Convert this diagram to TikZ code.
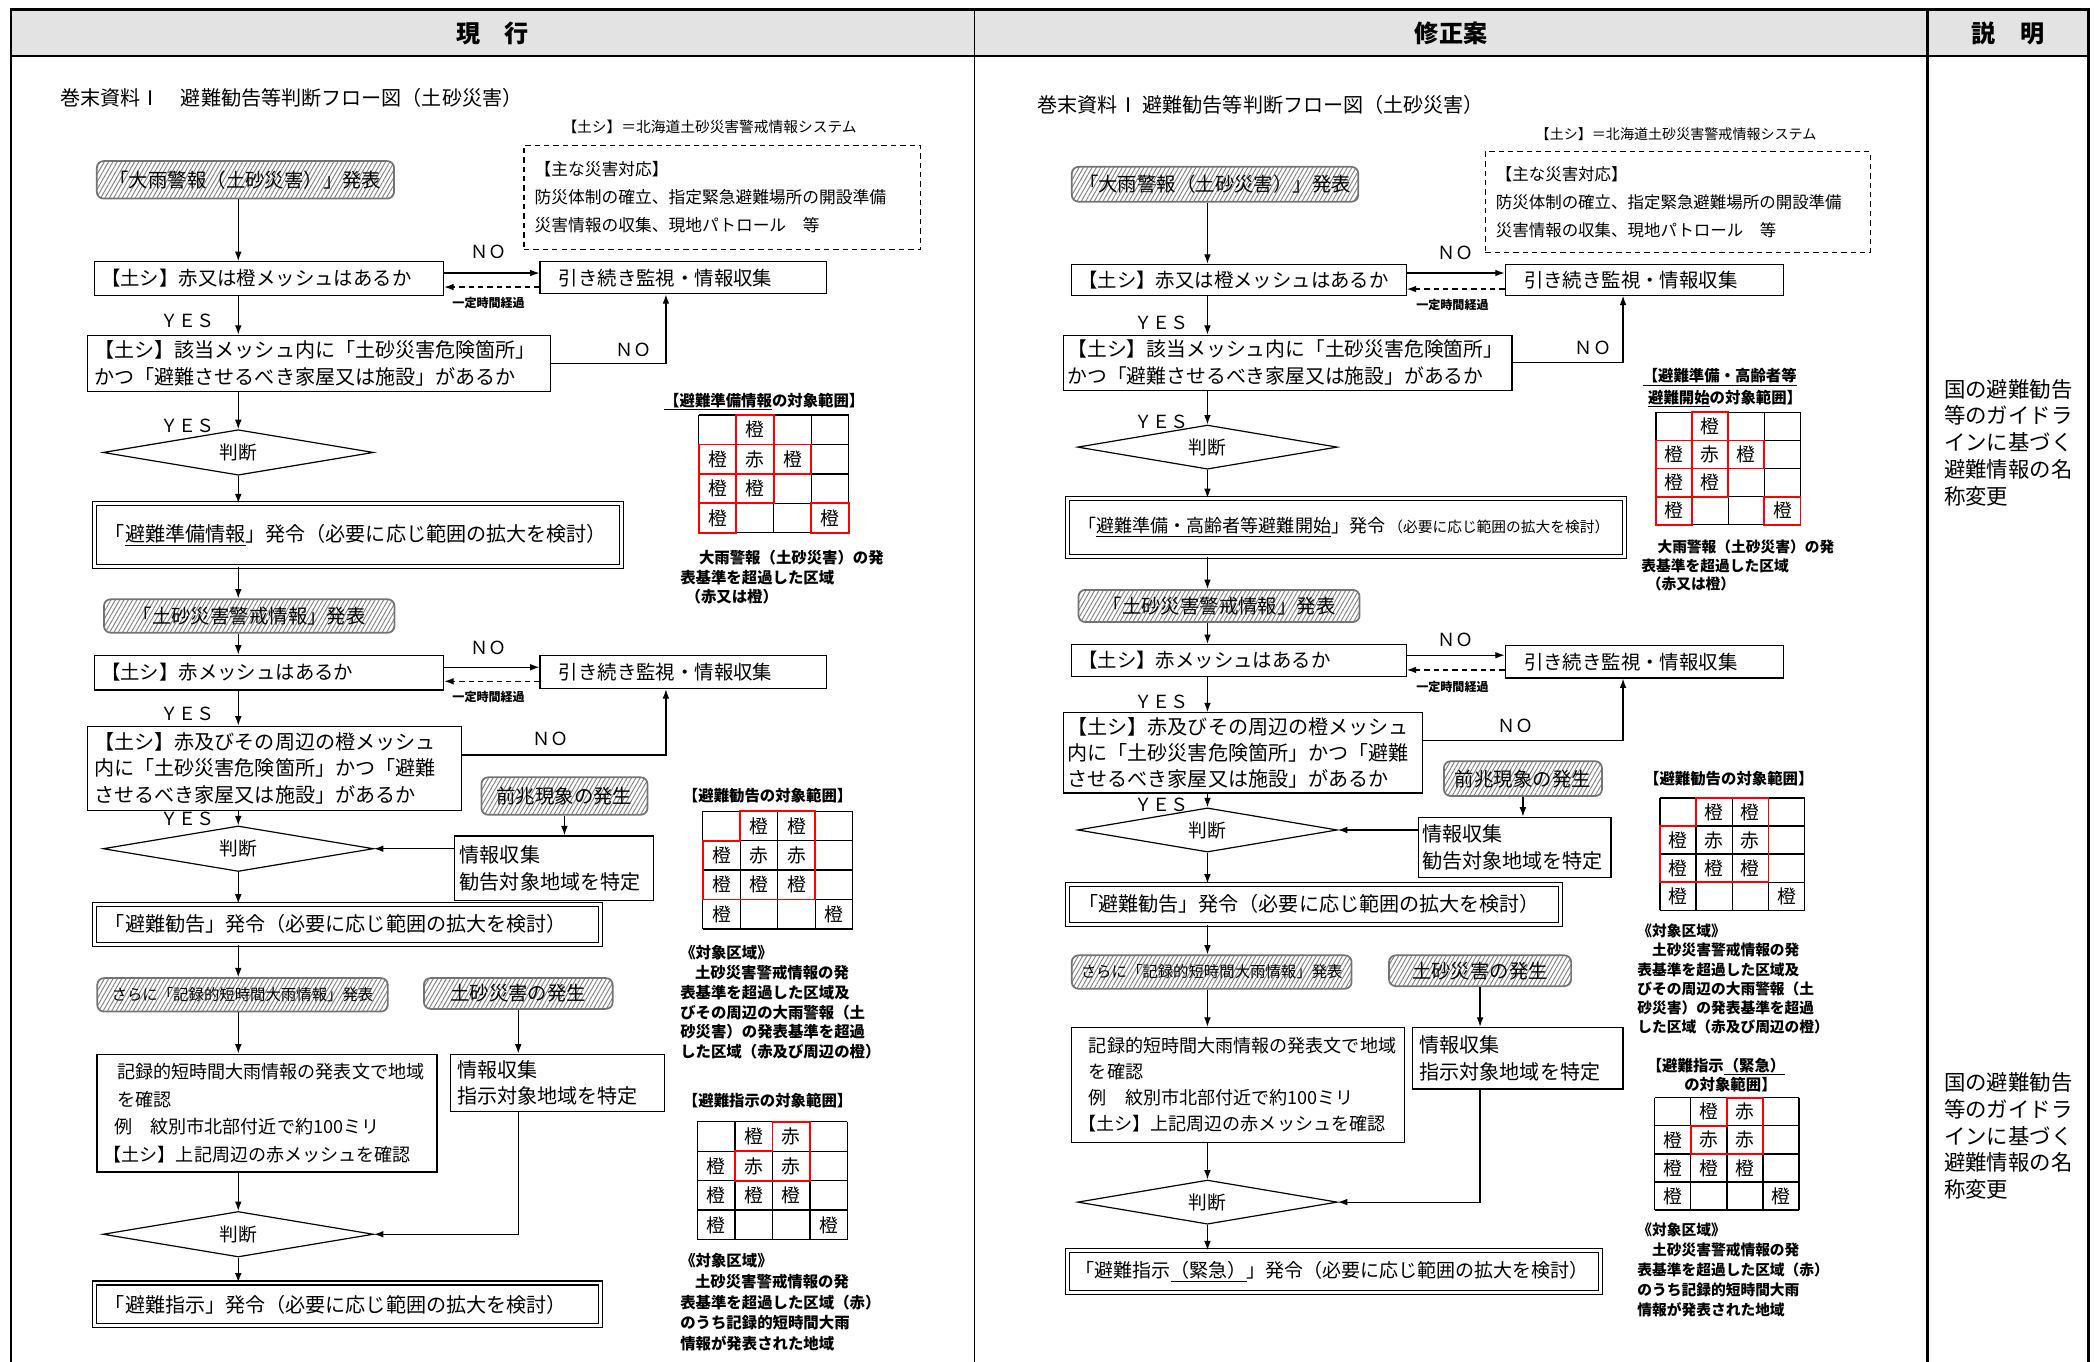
\documentclass[tikz,border=0pt]{standalone}
\usepackage{fontspec}
\setmainfont{Noto Sans CJK JP}
\usetikzlibrary{shapes.geometric, patterns.meta, arrows.meta}

\begin{document}
\begin{tikzpicture}[x=1pt, y=-1pt,
	bx/.style={draw, line width=0.9pt, anchor=north west, align=left, inner xsep=5pt, inner ysep=0pt, font={\fontsize{14.5}{20}\selectfont}},
	dbx/.style={bx, double, double distance=2.2pt, line width=0.8pt, inner xsep=8pt, font={\fontsize{15}{20}\selectfont}},
	hbx/.style={draw=black!55, line width=1.3pt, rounded corners=5pt, anchor=north west, inner sep=0pt, pattern={Lines[angle=60,distance=2.8pt,line width=0.7pt]}, pattern color=black!50, font={\fontsize{14.5}{18}\selectfont}},
	dmd/.style={draw, line width=0.9pt, diamond, aspect=6, inner sep=0pt, minimum width=202pt, minimum height=34pt, font={\fontsize{14}{16}\selectfont}},
	lbl/.style={font={\fontsize{13.5}{15}\selectfont}},
	lapse/.style={font={\fontsize{9}{10}\bfseries\selectfont}},
	note/.style={anchor=north west, align=left, inner sep=0pt, font={\fontsize{11.5}{14.8}\bfseries\selectfont}},
	rng/.style={anchor=west, inner sep=0pt, font={\fontsize{11.5}{13}\bfseries\selectfont}},
	cell/.style={inner sep=0pt, font={\fontsize{14}{14}\selectfont}},
	grid line/.style={line width=1pt},
	red line/.style={draw=red, line width=1.3pt},
	arr/.style={line width=0.9pt, -{Latex[length=7pt,width=5pt]}},
	backarr/.style={arr, dash pattern=on 4pt off 3pt},
	why/.style={anchor=north west, align=left, inner sep=0pt, font={\fontsize{16}{20}\selectfont}}
	]
	\useasboundingbox (0,0) rectangle (1568,1017.4);
	
	\fill[gray!22] (8,7) rectangle (1560,42);
	\draw[line width=1.8pt] (8,1018) -- (8,7) -- (1560,7) -- (1560,1018);
	\draw[line width=1.8pt] (8,42) -- (1560,42);
	\draw[line width=1.1pt] (728,7) -- (728,1018);
	\draw[line width=1.8pt] (1440,7) -- (1440,1018);
	\node[font={\fontsize{18}{20}\bfseries\selectfont}] (headL) at (368,25) {現　行};
	\node[font={\fontsize{18}{20}\bfseries\selectfont}] (headM) at (1084,25) {修正案};
	\node[font={\fontsize{18}{20}\bfseries\selectfont}] (headR) at (1500,25) {説　明};
	
	\node[anchor=west, inner sep=0pt, font={\fontsize{15}{18}\selectfont}] (titleL) at (45,73) {巻末資料Ⅰ　避難勧告等判断フロー図（土砂災害）};
	\node[anchor=west, inner sep=0pt, font={\fontsize{11}{12}\selectfont}] (sysL) at (420,95) {【土シ】＝北海道土砂災害警戒情報システム};
	\node[bx, dash pattern=on 4pt off 3pt, minimum height=78pt, text width=280pt, inner xsep=8pt, font={\fontsize{12.5}{21}\selectfont}] (dutyL) at (391,108) {【主な災害対応】\\防災体制の確立、指定緊急避難場所の開設準備\\災害情報の収集、現地パトロール　等};
	\node[hbx, minimum width=222pt, minimum height=28pt] (heavyL) at (72,120) {「大雨警報（土砂災害）」発表};
	\node[bx, minimum height=25pt, text width=251pt] (meshL) at (70,195) {【土シ】赤又は橙メッシュはあるか};
	\node[bx, minimum height=24pt, text width=186pt, inner xsep=14pt] (watchL) at (403,195) {引き続き監視・情報収集};
	\node[bx, minimum height=42pt, text width=336pt, font={\fontsize{15}{20}\selectfont}] (dangerL) at (65,250) {【土シ】該当メッシュ内に「土砂災害危険箇所」\\かつ「避難させるべき家屋又は施設」があるか};
	\node[dmd] (judgeAL) at (178,338) {判断};
	\node[dbx, minimum height=47pt, text width=378pt] (prepL) at (70,376) {「\underline{避難準備情報}」発令（必要に応じ範囲の拡大を検討）};
	\node[hbx, minimum width=217pt, minimum height=25pt] (warnL) at (77,447) {「土砂災害警戒情報」発表};
	\node[bx, minimum height=26pt, text width=251pt] (redL) at (70,489) {【土シ】赤メッシュはあるか};
	\node[bx, minimum height=25pt, text width=186pt, inner xsep=14pt] (watchBL) at (403,489) {引き続き監視・情報収集};
	\node[bx, minimum height=63pt, text width=269pt, font={\fontsize{15}{20}\selectfont}] (aroundL) at (65,542) {【土シ】赤及びその周辺の橙メッシュ\\内に「土砂災害危険箇所」かつ「避難\\させるべき家屋又は施設」があるか};
	\node[hbx, minimum width=124pt, minimum height=28pt] (signL) at (359,580) {前兆現象の発生};
	\node[dmd] (judgeBL) at (178,634) {判断};
	\node[bx, minimum height=48pt, text width=141pt, inner xsep=4pt, font={\fontsize{15}{20}\selectfont}] (infoAL) at (339,624) {情報収集\\勧告対象地域を特定};
	\node[dbx, minimum height=30pt, text width=362pt] (adviseL) at (70,675) {「避難勧告」発令（必要に応じ範囲の拡大を検討）};
	\node[hbx, minimum width=217pt, minimum height=25pt, font={\fontsize{11.5}{13}\selectfont}] (recordL) at (72,730) {さらに「記録的短時間大雨情報」発表};
	\node[hbx, minimum width=141pt, minimum height=23pt] (occurL) at (316,730) {土砂災害の発生};
	\node[bx, minimum height=88pt, text width=244pt, font={\fontsize{13.5}{20.5}\selectfont}] (chkL) at (72,787) {\hspace*{10pt}記録的短時間大雨情報の発表文で地域\\\hspace*{10pt}を確認\\\hspace*{8pt}例　紋別市北部付近で約100ミリ\\【土シ】上記周辺の赤メッシュを確認};
	\node[bx, minimum height=43pt, text width=150pt, font={\fontsize{15}{20}\selectfont}] (infoBL) at (336,787) {情報収集\\指示対象地域を特定};
	\node[dmd] (judgeCL) at (178,922) {判断};
	\node[dbx, minimum height=32pt, text width=362pt] (orderL) at (70,958) {「避難指示」発令（必要に応じ範囲の拡大を検討）};
	
	\node[lbl] (noAL) at (365,188) {ＮＯ};
	\node[lapse] (lapseAL) at (365,226) {一定時間経過};
	\node[lbl] (yesAL) at (140,240) {ＹＥＳ};
	\node[lbl] (noBL) at (473,261) {ＮＯ};
	\node[lbl] (yesBL) at (140,318) {ＹＥＳ};
	\node[lbl] (noCL) at (365,484) {ＮＯ};
	\node[lapse] (lapseBL) at (365,521) {一定時間経過};
	\node[lbl] (yesCL) at (140,533) {ＹＥＳ};
	\node[lbl] (noDL) at (411,552) {ＮＯ};
	\node[lbl] (yesDL) at (140,612) {ＹＥＳ};
	
	\coordinate (spineL) at (178,0);
	\draw[arr] (heavyL.south -| spineL) -- (meshL.north -| spineL);
	\draw[arr] (meshL.south -| spineL) -- (dangerL.north -| spineL);
	\draw[arr] (dangerL.south -| spineL) -- (judgeAL.north);
	\draw[arr] (judgeAL.south) -- (prepL.north -| spineL);
	\draw[arr] (prepL.south -| spineL) -- (warnL.north -| spineL);
	\draw[arr] (warnL.south -| spineL) -- (redL.north -| spineL);
	\draw[arr] (redL.south -| spineL) -- (aroundL.north -| spineL);
	\draw[arr] (aroundL.south -| spineL) -- (judgeBL.north);
	\draw[arr] (judgeBL.south) -- (adviseL.north -| spineL);
	\draw[arr] (adviseL.south -| spineL) -- (recordL.north -| spineL);
	\draw[arr] (recordL.south -| spineL) -- (chkL.north -| spineL);
	\draw[arr] (chkL.south -| spineL) -- (judgeCL.north);
	\draw[arr] (judgeCL.south) -- (orderL.north -| spineL);
	\draw[arr] ([yshift=4pt]meshL.east) -- ([yshift=4pt]meshL.east -| watchL.west);
	\draw[backarr] ([yshift=-7pt]watchL.west) -- ([yshift=-7pt]watchL.west -| meshL.east);
	\draw[arr] (dangerL.east) -| ([xshift=-13pt]watchL.south);
	\draw[arr] ([yshift=4pt]redL.east) -- ([yshift=4pt]redL.east -| watchBL.west);
	\draw[backarr] ([yshift=-7pt]watchBL.west) -- ([yshift=-7pt]watchBL.west -| redL.east);
	\draw[arr] ([yshift=10pt]aroundL.east) -| ([xshift=-13pt]watchBL.south);
	\draw[arr] (signL.south) -- (signL.south |- infoAL.north);
	\draw[arr] (infoAL.west |- judgeBL.east) -- (judgeBL.east);
	\draw[arr] (occurL.south) -- (occurL.south |- infoBL.north);
	\draw[arr] (occurL.south |- infoBL.south) |- (judgeCL.east);
	
	\node[rng] (rngAL) at (496,300) {\underline{【避難準備情報}の対象範囲】};
	\foreach \i in {0,...,4} {
		\draw[grid line] (522+28*\i,310) -- (522+28*\i,398);
		\draw[grid line] (522,310+22*\i) -- (634,310+22*\i);
	}
	\foreach \c/\r in {2/1,1/2,3/2,1/3,2/3,1/4,4/4}
		\draw[red line] (522+28*\c-28,310+22*\r-22) rectangle ++(28,22);
	\foreach \c/\r/\t in {2/1/橙,1/2/橙,2/2/赤,3/2/橙,1/3/橙,2/3/橙,1/4/橙,4/4/橙}
		\node[cell] (gaL-\c-\r) at (522+28*\c-14,310+22*\r-11) {\t};
	\node[note, font={\fontsize{11.5}{14.5}\bfseries\selectfont}] (areaAL) at (508,411) {\hspace*{14pt}大雨警報（土砂災害）の発\\表基準を超過した区域\\\hspace*{4pt}（赤又は橙）};
	
	\node[rng] (rngBL) at (510,594) {【避難勧告の対象範囲】};
	\foreach \i in {0,...,4} {
		\draw[grid line] (525+28*\i,606) -- (525+28*\i,694);
		\draw[grid line] (525,606+22*\i) -- (637,606+22*\i);
	}
	\draw[red line] (525,628) -- (553,628) -- (553,606) -- (609,606) -- (609,672) -- (525,672) -- cycle;
	\foreach \c/\r/\t in {2/1/橙,3/1/橙,1/2/橙,2/2/赤,3/2/赤,1/3/橙,2/3/橙,3/3/橙,1/4/橙,4/4/橙}
		\node[cell] (gbL-\c-\r) at (525+28*\c-14,606+22*\r-11) {\t};
	\node[note] (areaBL) at (508,706) {《対象区域》\\\hspace*{11pt}土砂災害警戒情報の発\\表基準を超過した区域及\\びその周辺の大雨警報（土\\砂災害）の発表基準を超過\\した区域（赤及び周辺の橙）};
	
	\node[rng] (rngCL) at (510,822) {【避難指示の対象範囲】};
	\foreach \i in {0,...,4} {
		\draw[grid line] (521+28*\i,838) -- (521+28*\i,926);
		\draw[grid line] (521,838+22*\i) -- (633,838+22*\i);
	}
	\draw[red line] (577,838) -- (605,838) -- (605,882) -- (549,882) -- (549,860) -- (577,860) -- cycle;
	\foreach \c/\r/\t in {2/1/橙,3/1/赤,1/2/橙,2/2/赤,3/2/赤,1/3/橙,2/3/橙,3/3/橙,1/4/橙,4/4/橙}
		\node[cell] (gcL-\c-\r) at (521+28*\c-14,838+22*\r-11) {\t};
	\node[note, font={\fontsize{11.5}{15.5}\bfseries\selectfont}] (areaCL) at (508,936) {《対象区域》\\\hspace*{11pt}土砂災害警戒情報の発\\表基準を超過した区域（赤）\\のうち記録的短時間大雨\\情報が発表された地域};
	
	\node[anchor=west, inner sep=0pt, font={\fontsize{15}{18}\selectfont}] (titleR) at (775,78) {巻末資料Ⅰ 避難勧告等判断フロー図（土砂災害）};
	\node[anchor=west, inner sep=0pt, font={\fontsize{10.5}{12}\selectfont}] (sysR) at (1147,100) {【土シ】＝北海道土砂災害警戒情報システム};
	\node[bx, dash pattern=on 4pt off 3pt, minimum height=75pt, text width=272pt, inner xsep=8pt, font={\fontsize{12.3}{21}\selectfont}] (dutyR) at (1109,113) {【主な災害対応】\\防災体制の確立、指定緊急避難場所の開設準備\\災害情報の収集、現地パトロール　等};
	\node[hbx, minimum width=214pt, minimum height=26pt] (heavyR) at (800,124) {「大雨警報（土砂災害）」発表};
	\node[bx, minimum height=23pt, text width=240pt] (meshR) at (800,197) {【土シ】赤又は橙メッシュはあるか};
	\node[bx, minimum height=23pt, text width=180pt, inner xsep=14pt] (watchR) at (1124,197) {引き続き監視・情報収集};
	\node[bx, minimum height=41pt, text width=329pt, inner xsep=3pt, font={\fontsize{14.8}{20}\selectfont}] (dangerR) at (794,250) {【土シ】該当メッシュ内に「土砂災害危険箇所」\\かつ「避難させるべき家屋又は施設」があるか};
	\node[dmd, minimum width=194pt, minimum height=33pt] (judgeAR) at (902,334) {判断};
	\node[dbx, minimum height=43pt, text width=400pt, font={\fontsize{13.5}{20}\selectfont}] (prepR) at (797,372) {「\underline{避難準備・高齢者等避難開始}」発令\,{\fontsize{11}{12}\selectfont（必要に応じ範囲の拡大を検討）}};
	\node[hbx, minimum width=210pt, minimum height=24pt] (warnR) at (805,440) {「土砂災害警戒情報」発表};
	\node[bx, minimum height=24pt, text width=240pt] (redR) at (800,481) {【土シ】赤メッシュはあるか};
	\node[bx, minimum height=24pt, text width=180pt, inner xsep=14pt] (watchBR) at (1124,482) {引き続き監視・情報収集};
	\node[bx, minimum height=60pt, text width=262pt, inner xsep=3pt, font={\fontsize{15}{19.5}\selectfont}] (aroundR) at (794,532) {【土シ】赤及びその周辺の橙メッシュ\\内に「土砂災害危険箇所」かつ「避難\\させるべき家屋又は施設」があるか};
	\node[hbx, minimum width=118pt, minimum height=26pt] (signR) at (1078,568) {前兆現象の発生};
	\node[dmd, minimum width=194pt, minimum height=33pt] (judgeBR) at (902,620) {判断};
	\node[bx, minimum height=45pt, text width=138pt, inner xsep=3pt, font={\fontsize{15}{20}\selectfont}] (infoAR) at (1059,610) {情報収集\\勧告対象地域を特定};
	\node[dbx, minimum height=30pt, text width=352pt] (adviseR) at (797,660) {「避難勧告」発令（必要に応じ範囲の拡大を検討）};
	\node[hbx, minimum width=209pt, minimum height=25pt, font={\fontsize{11.5}{13}\selectfont}] (recordR) at (800,713) {さらに「記録的短時間大雨情報」発表};
	\node[hbx, minimum width=136pt, minimum height=23pt] (occurR) at (1037,713) {土砂災害の発生};
	\node[bx, minimum height=86pt, text width=239pt, font={\fontsize{13.5}{19.5}\selectfont}] (chkR) at (800,767) {\hspace*{8pt}記録的短時間大雨情報の発表文で地域\\\hspace*{8pt}を確認\\\hspace*{8pt}例　紋別市北部付近で約100ミリ\\【土シ】上記周辺の赤メッシュを確認};
	\node[bx, minimum height=46pt, text width=147pt, font={\fontsize{15}{20}\selectfont}] (infoBR) at (1055,767) {情報収集\\指示対象地域を特定};
	\node[dmd, minimum width=194pt, minimum height=33pt] (judgeCR) at (902,898) {判断};
	\node[dbx, minimum height=31pt, text width=386pt, inner xsep=6pt, font={\fontsize{14.2}{20}\selectfont}] (orderR) at (797,934) {「避難指示\underline{（緊急）}」発令（必要に応じ範囲の拡大を検討）};
	
	\node[lbl] (noAR) at (1087,189) {ＮＯ};
	\node[lapse] (lapseAR) at (1085,228) {一定時間経過};
	\node[lbl] (yesAR) at (868,241) {ＹＥＳ};
	\node[lbl] (noBR) at (1190,260) {ＮＯ};
	\node[lbl] (yesBR) at (868,315) {ＹＥＳ};
	\node[lbl] (noCR) at (1087,478) {ＮＯ};
	\node[lapse] (lapseBR) at (1085,513) {一定時間経過};
	\node[lbl] (yesCR) at (868,524) {ＹＥＳ};
	\node[lbl] (noDR) at (1132,542) {ＮＯ};
	\node[lbl] (yesDR) at (868,601) {ＹＥＳ};
	
	\coordinate (spineR) at (902,0);
	\draw[arr] (heavyR.south -| spineR) -- (meshR.north -| spineR);
	\draw[arr] (meshR.south -| spineR) -- (dangerR.north -| spineR);
	\draw[arr] (dangerR.south -| spineR) -- (judgeAR.north);
	\draw[arr] (judgeAR.south) -- (prepR.north -| spineR);
	\draw[arr] (prepR.south -| spineR) -- (warnR.north -| spineR);
	\draw[arr] (warnR.south -| spineR) -- (redR.north -| spineR);
	\draw[arr] (redR.south -| spineR) -- (aroundR.north -| spineR);
	\draw[arr] (aroundR.south -| spineR) -- (judgeBR.north);
	\draw[arr] (judgeBR.south) -- (adviseR.north -| spineR);
	\draw[arr] (adviseR.south -| spineR) -- (recordR.north -| spineR);
	\draw[arr] (recordR.south -| spineR) -- (chkR.north -| spineR);
	\draw[arr] (chkR.south -| spineR) -- (judgeCR.north);
	\draw[arr] (judgeCR.south) -- (orderR.north -| spineR);
	\draw[arr] ([yshift=5pt]meshR.east) -- ([yshift=5pt]meshR.east -| watchR.west);
	\draw[backarr] ([yshift=-7pt]watchR.west) -- ([yshift=-7pt]watchR.west -| meshR.east);
	\draw[arr] (dangerR.east) -| ([xshift=-16pt]watchR.south);
	\draw[arr] ([yshift=4pt]redR.east) -- ([yshift=4pt]redR.east -| watchBR.west);
	\draw[backarr] ([yshift=-6pt]watchBR.west) -- ([yshift=-6pt]watchBR.west -| redR.east);
	\draw[arr] ([yshift=9pt]aroundR.east) -| ([xshift=-16pt]watchBR.south);
	\draw[arr] (signR.south) -- (signR.south |- infoAR.north);
	\draw[arr] (infoAR.west |- judgeBR.east) -- (judgeBR.east);
	\draw[arr] (occurR.south) -- (occurR.south |- infoBR.north);
	\draw[arr] (occurR.south |- infoBR.south) |- (judgeCR.east);
	
	\node[note, font={\fontsize{11.5}{16}\bfseries\selectfont}] (rngAR) at (1227,275) {\underline{【避難準備・高齢者等}\\\hspace*{4pt}\underline{避難開始}の対象範囲】};
	\foreach \i in {0,...,4} {
		\draw[grid line] (1237+27*\i,308) -- (1237+27*\i,392);
		\draw[grid line] (1237,308+21*\i) -- (1345,308+21*\i);
	}
	\foreach \c/\r in {2/1,1/2,3/2,1/3,2/3,1/4,4/4}
		\draw[red line] (1237+27*\c-27,308+21*\r-21) rectangle ++(27,21);
	\foreach \c/\r/\t in {2/1/橙,1/2/橙,2/2/赤,3/2/橙,1/3/橙,2/3/橙,1/4/橙,4/4/橙}
		\node[cell] (gaR-\c-\r) at (1237+27*\c-13.5,308+21*\r-10.5) {\t};
	\node[note, font={\fontsize{11}{14}\bfseries\selectfont}] (areaAR) at (1226,403) {\hspace*{12pt}大雨警報（土砂災害）の発\\表基準を超過した区域\\\hspace*{4pt}（赤又は橙）};
	
	\node[rng] (rngBR) at (1228,582) {【避難勧告の対象範囲】};
	\foreach \i in {0,...,4} {
		\draw[grid line] (1240+27*\i,596) -- (1240+27*\i,680);
		\draw[grid line] (1240,596+21*\i) -- (1348,596+21*\i);
	}
	\draw[red line] (1240,617) -- (1267,617) -- (1267,596) -- (1321,596) -- (1321,659) -- (1240,659) -- cycle;
	\foreach \c/\r/\t in {2/1/橙,3/1/橙,1/2/橙,2/2/赤,3/2/赤,1/3/橙,2/3/橙,3/3/橙,1/4/橙,4/4/橙}
		\node[cell] (gbR-\c-\r) at (1240+27*\c-13.5,596+21*\r-10.5) {\t};
	\node[note, font={\fontsize{11}{14.4}\bfseries\selectfont}] (areaBR) at (1223,690) {《対象区域》\\\hspace*{11pt}土砂災害警戒情報の発\\表基準を超過した区域及\\びその周辺の大雨警報（土\\砂災害）の発表基準を超過\\した区域（赤及び周辺の橙）};
	
	\node[note] (rngCR) at (1230,790) {【避難指示\underline{（緊急）}\\\hspace*{28pt}の対象範囲】};
	\foreach \i in {0,...,4} {
		\draw[grid line] (1236+27*\i,820) -- (1236+27*\i,904);
		\draw[grid line] (1236,820+21*\i) -- (1344,820+21*\i);
	}
	\draw[red line] (1290,820) -- (1317,820) -- (1317,862) -- (1263,862) -- (1263,841) -- (1290,841) -- cycle;
	\foreach \c/\r/\t in {2/1/橙,3/1/赤,1/2/橙,2/2/赤,3/2/赤,1/3/橙,2/3/橙,3/3/橙,1/4/橙,4/4/橙}
		\node[cell] (gcR-\c-\r) at (1236+27*\c-13.5,820+21*\r-10.5) {\t};
	\node[note, font={\fontsize{11}{15}\bfseries\selectfont}] (areaCR) at (1223,913) {《対象区域》\\\hspace*{11pt}土砂災害警戒情報の発\\表基準を超過した区域（赤）\\のうち記録的短時間大雨\\情報が発表された地域};
	
	\node[why] (whyA) at (1452,283) {国の避難勧告\\等のガイドラ\\インに基づく\\避難情報の名\\称変更};
	\node[why] (whyB) at (1452,801) {国の避難勧告\\等のガイドラ\\インに基づく\\避難情報の名\\称変更};
\end{tikzpicture}
\end{document}
